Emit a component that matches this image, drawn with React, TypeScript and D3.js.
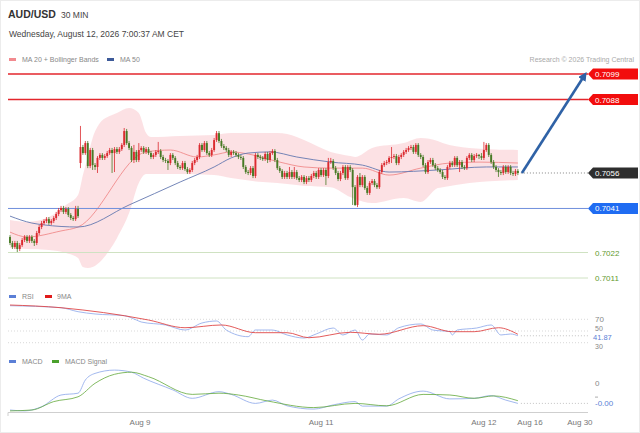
import * as d3 from "d3";

// AUD/USD 30 MIN candles
const opens = [
  0.70287, 0.70261, 0.70244, 0.70261, 0.70235, 0.70252, 0.70274, 0.70287, 0.7027, 0.70287,
  0.7027, 0.70261, 0.70304, 0.7033, 0.70347, 0.70356, 0.70364, 0.70347, 0.70356, 0.70369,
  0.70386, 0.70403, 0.70412, 0.70395, 0.70408, 0.70382, 0.70369, 0.70364, 0.70408, 0.70606,
  0.70675, 0.70649, 0.70692, 0.70593, 0.70662, 0.70597, 0.70589, 0.70628, 0.70641, 0.70628,
  0.70636, 0.70649, 0.70662, 0.70649, 0.70666, 0.70654, 0.70666, 0.70684, 0.70744, 0.70692,
  0.70671, 0.70619, 0.70654, 0.70619, 0.70662, 0.70671, 0.70654, 0.70666, 0.70649, 0.70632,
  0.70641, 0.70654, 0.70658, 0.70632, 0.70619, 0.70615, 0.70606, 0.70641, 0.70628, 0.70606,
  0.70589, 0.70584, 0.70606, 0.7058, 0.70567, 0.70576, 0.70606, 0.70619, 0.70632, 0.70684,
  0.70662, 0.70692, 0.70649, 0.70641, 0.70662, 0.70705, 0.70735, 0.70701, 0.70679, 0.70671,
  0.70662, 0.70641, 0.70654, 0.70649, 0.70641, 0.70632, 0.70628, 0.70589, 0.70567, 0.70563,
  0.70584, 0.7055, 0.70641, 0.70632, 0.70628, 0.70623, 0.70645, 0.70619, 0.70649, 0.70658,
  0.70619, 0.70584, 0.70572, 0.70546, 0.70563, 0.70546, 0.70567, 0.70546, 0.70567, 0.70541,
  0.70533, 0.70546, 0.70524, 0.70541, 0.70533, 0.7055, 0.70563, 0.70546, 0.70576, 0.70554,
  0.70576, 0.7055, 0.7061, 0.70615, 0.70584, 0.70563, 0.70537, 0.70563, 0.70589, 0.70541,
  0.70589, 0.70576, 0.70502, 0.70425, 0.70546, 0.70511, 0.70546, 0.70498, 0.70477, 0.7052,
  0.70528, 0.70511, 0.70502, 0.70567, 0.70597, 0.70606, 0.7061, 0.70628, 0.70632, 0.70636,
  0.70606, 0.70632, 0.70641, 0.70654, 0.70662, 0.70671, 0.70675, 0.70654, 0.70684, 0.70641,
  0.70632, 0.70597, 0.70567, 0.7061, 0.70619, 0.70597, 0.70584, 0.70576, 0.70567, 0.70546,
  0.70541, 0.70589, 0.70606, 0.70597, 0.70628, 0.70597, 0.7061, 0.70589, 0.70584, 0.70628,
  0.70641, 0.70619, 0.70636, 0.70641, 0.70636, 0.70628, 0.70662, 0.70684, 0.70641, 0.7061,
  0.70589, 0.70576, 0.70567, 0.70563, 0.70589, 0.70567, 0.70589, 0.70563, 0.70559, 0.70572,
];
const highs = [
  0.70295, 0.7027, 0.7027, 0.7027, 0.70261, 0.70283, 0.70295, 0.70295, 0.70295, 0.70295,
  0.70278, 0.70313, 0.70339, 0.70356, 0.70364, 0.70373, 0.70373, 0.70364, 0.70377, 0.70395,
  0.70412, 0.70421, 0.70421, 0.70416, 0.70416, 0.7039, 0.70377, 0.70421, 0.70421, 0.70766,
  0.70684, 0.70701, 0.70701, 0.70671, 0.70671, 0.70606, 0.70636, 0.70649, 0.70649, 0.70645,
  0.70658, 0.70671, 0.70671, 0.70675, 0.70675, 0.70675, 0.70692, 0.70757, 0.70753, 0.70701,
  0.70679, 0.70684, 0.70662, 0.70692, 0.70679, 0.70679, 0.70675, 0.70675, 0.70658, 0.70649,
  0.70662, 0.70697, 0.70666, 0.70641, 0.70628, 0.70623, 0.70649, 0.70649, 0.70636, 0.70615,
  0.70597, 0.70615, 0.70615, 0.70589, 0.70584, 0.70615, 0.70628, 0.70641, 0.70692, 0.70692,
  0.70701, 0.70701, 0.70658, 0.70671, 0.70714, 0.70744, 0.70744, 0.7071, 0.70688, 0.70679,
  0.70671, 0.70662, 0.70662, 0.70658, 0.70649, 0.70641, 0.70636, 0.70597, 0.70576, 0.70593,
  0.70593, 0.70649, 0.70649, 0.70641, 0.70636, 0.70654, 0.70654, 0.70658, 0.70666, 0.70666,
  0.70628, 0.70593, 0.7058, 0.70572, 0.70572, 0.70589, 0.70576, 0.70589, 0.70576, 0.7055,
  0.70554, 0.70554, 0.7055, 0.7055, 0.70559, 0.70572, 0.70572, 0.70584, 0.70584, 0.70584,
  0.70584, 0.70628, 0.70628, 0.70623, 0.70593, 0.70572, 0.70572, 0.70597, 0.70597, 0.70597,
  0.70597, 0.70584, 0.70511, 0.70554, 0.70563, 0.70554, 0.70554, 0.70507, 0.70528, 0.70537,
  0.70537, 0.7052, 0.70576, 0.70606, 0.70615, 0.70619, 0.70636, 0.70675, 0.70645, 0.70645,
  0.70641, 0.70649, 0.70662, 0.70671, 0.70679, 0.70684, 0.70684, 0.70692, 0.70692, 0.70649,
  0.70641, 0.70606, 0.70619, 0.70628, 0.70628, 0.70606, 0.70593, 0.70584, 0.70576, 0.70554,
  0.70597, 0.70615, 0.70615, 0.70636, 0.70636, 0.70619, 0.70619, 0.70597, 0.70636, 0.70649,
  0.70649, 0.70645, 0.70649, 0.70645, 0.70649, 0.70697, 0.70692, 0.70692, 0.70649, 0.70619,
  0.70597, 0.70584, 0.70576, 0.70597, 0.70597, 0.70597, 0.70597, 0.70572, 0.7058, 0.7058,
];
const lows = [
  0.70252, 0.70235, 0.70235, 0.70222, 0.70226, 0.70244, 0.70265, 0.70261, 0.70261, 0.70261,
  0.70248, 0.70252, 0.70295, 0.70321, 0.70339, 0.70347, 0.70339, 0.70339, 0.70347, 0.7036,
  0.70377, 0.70395, 0.70386, 0.70386, 0.70373, 0.7036, 0.70356, 0.70356, 0.70369, 0.70584,
  0.70641, 0.70641, 0.70584, 0.70584, 0.70576, 0.70576, 0.70563, 0.70619, 0.70619, 0.70619,
  0.70628, 0.70641, 0.70563, 0.70567, 0.70645, 0.70645, 0.70658, 0.70675, 0.70684, 0.70662,
  0.7061, 0.70606, 0.7061, 0.7061, 0.70654, 0.70645, 0.70645, 0.70641, 0.70623, 0.70623,
  0.70632, 0.70645, 0.70623, 0.7061, 0.70606, 0.70576, 0.70597, 0.70619, 0.70597, 0.7058,
  0.70576, 0.70576, 0.70572, 0.70559, 0.70559, 0.70567, 0.70597, 0.7061, 0.70623, 0.70654,
  0.70654, 0.70641, 0.70632, 0.70632, 0.70654, 0.70697, 0.70692, 0.70671, 0.70662, 0.70654,
  0.70632, 0.70632, 0.70641, 0.70632, 0.70623, 0.70619, 0.7058, 0.70559, 0.70554, 0.70554,
  0.70541, 0.70541, 0.70623, 0.70619, 0.70615, 0.70615, 0.70606, 0.7061, 0.70641, 0.7061,
  0.70576, 0.70563, 0.70537, 0.70537, 0.70537, 0.70537, 0.70537, 0.70537, 0.70533, 0.70524,
  0.70524, 0.70515, 0.70515, 0.70524, 0.70524, 0.70541, 0.70537, 0.70537, 0.70546, 0.70546,
  0.70511, 0.70541, 0.70602, 0.70576, 0.70554, 0.70528, 0.70528, 0.70554, 0.70533, 0.70533,
  0.70567, 0.70425, 0.70421, 0.70416, 0.70502, 0.70502, 0.7049, 0.70468, 0.70468, 0.70511,
  0.70502, 0.70494, 0.70494, 0.70559, 0.70589, 0.70597, 0.70602, 0.70606, 0.70623, 0.70597,
  0.70597, 0.70623, 0.70632, 0.70645, 0.70654, 0.70662, 0.70645, 0.70645, 0.70632, 0.70623,
  0.70589, 0.70559, 0.70559, 0.70602, 0.70589, 0.70576, 0.70567, 0.70559, 0.70537, 0.70533,
  0.70533, 0.7058, 0.70589, 0.70589, 0.70589, 0.70567, 0.7058, 0.70576, 0.70576, 0.70619,
  0.7061, 0.7061, 0.70628, 0.70623, 0.70619, 0.70619, 0.70654, 0.70632, 0.70602, 0.7058,
  0.70567, 0.70546, 0.70554, 0.70554, 0.70559, 0.70559, 0.70554, 0.7055, 0.7055, 0.70554,
];
const closes = [
  0.70261, 0.70244, 0.70261, 0.70235, 0.70252, 0.70274, 0.70287, 0.7027, 0.70287, 0.7027,
  0.70261, 0.70304, 0.7033, 0.70347, 0.70356, 0.70364, 0.70347, 0.70356, 0.70369, 0.70386,
  0.70403, 0.70412, 0.70395, 0.70408, 0.70382, 0.70369, 0.70364, 0.70408, 0.70377, 0.70675,
  0.70649, 0.70692, 0.70593, 0.70662, 0.70597, 0.70589, 0.70628, 0.70641, 0.70628, 0.70636,
  0.70649, 0.70662, 0.70649, 0.70666, 0.70654, 0.70666, 0.70684, 0.70744, 0.70692, 0.70671,
  0.70619, 0.70654, 0.70619, 0.70662, 0.70671, 0.70654, 0.70666, 0.70649, 0.70632, 0.70641,
  0.70654, 0.70658, 0.70632, 0.70619, 0.70615, 0.70606, 0.70641, 0.70628, 0.70606, 0.70589,
  0.70584, 0.70606, 0.7058, 0.70567, 0.70576, 0.70606, 0.70619, 0.70632, 0.70684, 0.70662,
  0.70692, 0.70649, 0.70641, 0.70662, 0.70705, 0.70735, 0.70701, 0.70679, 0.70671, 0.70662,
  0.70641, 0.70654, 0.70649, 0.70641, 0.70632, 0.70628, 0.70589, 0.70567, 0.70563, 0.70584,
  0.7055, 0.70641, 0.70632, 0.70628, 0.70623, 0.70645, 0.70619, 0.70649, 0.70658, 0.70619,
  0.70584, 0.70572, 0.70546, 0.70563, 0.70546, 0.70567, 0.70546, 0.70567, 0.70541, 0.70533,
  0.70546, 0.70524, 0.70541, 0.70533, 0.7055, 0.70563, 0.70546, 0.70576, 0.70554, 0.70576,
  0.7055, 0.7061, 0.70615, 0.70584, 0.70563, 0.70537, 0.70563, 0.70589, 0.70541, 0.70589,
  0.70576, 0.70502, 0.70425, 0.70546, 0.70511, 0.70546, 0.70498, 0.70477, 0.7052, 0.70528,
  0.70511, 0.70502, 0.70567, 0.70597, 0.70606, 0.7061, 0.70628, 0.70632, 0.70636, 0.70606,
  0.70632, 0.70641, 0.70654, 0.70662, 0.70671, 0.70675, 0.70654, 0.70684, 0.70641, 0.70632,
  0.70597, 0.70567, 0.7061, 0.70619, 0.70597, 0.70584, 0.70576, 0.70567, 0.70546, 0.70541,
  0.70589, 0.70606, 0.70597, 0.70628, 0.70597, 0.7061, 0.70589, 0.70584, 0.70628, 0.70641,
  0.70619, 0.70636, 0.70641, 0.70636, 0.70628, 0.70662, 0.70684, 0.70641, 0.7061, 0.70589,
  0.70576, 0.70567, 0.70563, 0.70589, 0.70567, 0.70589, 0.70563, 0.70559, 0.70572, 0.70563,
];

// indicators, sampled at candle indices
const ma20Idx = [0, 7, 21, 28, 56, 66, 77, 84, 91, 98, 111, 121, 132, 145, 156, 169, 181, 193, 209];
const ma20 = [0.70308, 0.70287, 0.70313, 0.7033, 0.70654, 0.70662, 0.70632, 0.70641, 0.70654, 0.70645, 0.7061, 0.70589, 0.70584, 0.70584, 0.70554, 0.70584, 0.70606, 0.7061, 0.70606];
const ma50Idx = [0, 9, 14, 28, 49, 70, 84, 91, 98, 107, 118, 132, 145, 156, 176, 196, 209];
const ma50 = [0.70377, 0.70347, 0.70339, 0.7033, 0.70425, 0.70524, 0.70589, 0.70628, 0.70649, 0.70654, 0.70632, 0.7061, 0.70597, 0.70567, 0.70576, 0.70589, 0.70589];
const bbIdx = [0, 7, 16, 23, 28, 30, 32, 34, 37, 41, 44, 49, 53, 56, 58, 70, 84, 91, 104, 110, 118, 121, 132, 140, 142, 149, 162, 169, 176, 178, 189, 209];
const bbUpper = [0.7036, 0.70352, 0.70373, 0.70425, 0.70468, 0.70554, 0.70632, 0.70714, 0.70779, 0.70809, 0.70822, 0.70843, 0.70822, 0.70735, 0.70718, 0.70723, 0.70727, 0.70735, 0.70735, 0.70735, 0.70718, 0.70705, 0.70654, 0.70636, 0.70632, 0.70671, 0.70692, 0.70714, 0.70701, 0.70692, 0.70671, 0.70662];
const bbLower = [0.70239, 0.70235, 0.70231, 0.70218, 0.70196, 0.70157, 0.70153, 0.70157, 0.70179, 0.70231, 0.70282, 0.7039, 0.7052, 0.70559, 0.70559, 0.70559, 0.70554, 0.70541, 0.70524, 0.7052, 0.70511, 0.70507, 0.70502, 0.70459, 0.70451, 0.70433, 0.70455, 0.70438, 0.70498, 0.70502, 0.7052, 0.70533];

const rsiIdx = [0, 21, 28, 35, 47, 52, 54, 64, 72, 79, 85, 89, 98, 101, 108, 114, 121, 126, 133, 137, 142, 145, 148, 155, 160, 169, 174, 181, 182, 184, 192, 198, 202, 206, 209];
const rsi = [93.2, 89.8, 83.0, 79.1, 76.2, 68.8, 65.4, 60.3, 51.7, 63.7, 67.1, 51.7, 40.3, 51.7, 51.7, 43.2, 38.0, 44.9, 55.1, 43.2, 51.7, 34.6, 44.9, 43.2, 55.6, 62.0, 51.7, 48.8, 43.2, 51.7, 55.1, 60.3, 43.2, 44.9, 41.87];
const rsiMaIdx = [0, 21, 30, 47, 57, 72, 87, 101, 114, 123, 140, 152, 170, 182, 191, 201, 209];
const rsiMa = [94.4, 89.8, 85.9, 76.2, 68.8, 55.6, 60.3, 47.1, 47.1, 38.5, 47.8, 44.4, 59.1, 48.8, 48.8, 55.6, 44.4];
const rsiLevels = [70, 50, 30];

const macdIdx = [0, 6, 13, 21, 28, 31, 35, 43, 50, 55, 67, 75, 86, 91, 101, 108, 114, 125, 133, 142, 145, 155, 160, 170, 181, 191, 198, 204, 209];
const macd = [-0.0009, -0.00093, -0.00079, -0.0004, -0.00034, 0.0001, 0.00032, 0.00043, 0.00036, 0.00016, -0.00023, -0.00051, -0.00029, -0.00038, -0.00068, -0.00057, -0.00076, -0.00087, -0.00073, -0.00062, -0.00077, -0.00077, -0.00053, -0.00027, -0.00053, -0.00051, -0.00042, -0.00057, -0.00068];
const signalIdx = [0, 9, 18, 28, 35, 43, 50, 57, 75, 86, 94, 106, 125, 142, 155, 170, 181, 191, 199, 209];
const signal = [-0.00093, -0.0009, -0.00062, -0.00046, -0.00001, 0.00029, 0.00036, 0.00021, -0.00038, -0.00034, -0.0004, -0.0006, -0.00082, -0.00068, -0.00076, -0.00038, -0.0004, -0.00051, -0.00043, -0.00059];

const resistances = [0.7099, 0.7088];
const pivot = 0.7041;
const supports = [0.7022, 0.7011];
const targetIdx = 236.5;

const xTickIdx = [53.5, 128, 195, 214, 234.5];
const xTickLabels = ["Aug 9", "Aug 11", "Aug 12", "Aug 16", "Aug 30"];

const FONT = "'Liberation Sans', Arial, sans-serif";
const UP = "#db2a2f";
const DOWN = "#477a25";
const LEFT = 8;
const RIGHT = 588;

const N = closes.length;
const x = d3.scaleLinear().domain([0, N - 1]).range([10, 517.9]);
const yP = d3.scaleLinear().domain([0.7011, 0.7099]).range([278, 74]);
const yR = d3.scaleLinear().domain([30, 70]).range([342.7, 319.3]);
const yM = d3.scaleLinear().domain([-0.001, 0]).range([413, 383]);

function linePath(idx: number[], vals: number[], y: d3.ScaleLinear<number, number>) {
  return (
    d3
      .line<number>()
      .x((_, i) => x(idx[i]))
      .y((v) => y(v))
      .curve(d3.curveMonotoneX)(vals) || ""
  );
}

function Tag({ value, fill }: { value: number; fill: string }) {
  const y = yP(value);
  return (
    <g>
      <path d={`M${RIGHT},${y} L${RIGHT + 5},${y - 5.5} L638,${y - 5.5} L638,${y + 5.5} L${RIGHT + 5},${y + 5.5} Z`} fill={fill} />
      <text x={595} y={y + 3} fontSize={8} fill="#fff">{value.toFixed(4)}</text>
    </g>
  );
}

export default function App() {
  const last = closes[N - 1];
  const rsiLast = rsi[rsi.length - 1];
  const macdLast = macd[macd.length - 1];
  const band =
    d3
      .area<number>()
      .x((_, i) => x(bbIdx[i]))
      .y0((_, i) => yP(bbLower[i]))
      .y1((v) => yP(v))
      .curve(d3.curveMonotoneX)(bbUpper) || "";

  const ax0 = x(N - 1) + 4;
  const ay0 = yP(last);
  const ax1 = x(targetIdx);
  const ay1 = yP(resistances[0]) + 1;

  return (
    <div style={{ position: "absolute", left: 0, top: 0 }}>
      <svg width={640} height={433} style={{ display: "block", fontFamily: FONT }}>
        <defs>
          <marker id="ah" viewBox="0 0 10 10" refX="6" refY="5" markerWidth="3.4" markerHeight="3.4" orient="auto">
            <path d="M0,0 L10,5 L0,10 Z" fill="#2f62a6" />
          </marker>
        </defs>
        <rect x={0.5} y={0.5} width={639} height={432} fill="#fff" stroke="#ececec" />

        {/* header */}
        <text x={8} y={18} fontSize={10.5} fontWeight="bold" fill="#333">AUD/USD</text>
        <text x={61} y={18} fontSize={8.5} fill="#444">30 MIN</text>
        <text x={9} y={37} fontSize={8.5} fill="#444">Wednesday, August 12, 2026 7:00:37 AM CET</text>

        <rect x={9} y={58} width={7} height={3} fill="#f28a8f" />
        <text x={22} y={62} fontSize={7} fill="#888">MA 20 + Bollinger Bands</text>
        <rect x={107} y={58} width={7} height={3} fill="#3d5a99" />
        <text x={120} y={62} fontSize={7} fill="#888">MA 50</text>
        <text x={634} y={62} fontSize={7} fill="#aaa" textAnchor="end">Research © 2026 Trading Central</text>

        {/* bollinger band + MAs */}
        <path d={band} fill="#f7a3ad" fillOpacity={0.33} />
        <path d={linePath(ma20Idx, ma20, yP)} fill="none" stroke="#ef8080" strokeWidth={0.8} />
        <path d={linePath(ma50Idx, ma50, yP)} fill="none" stroke="#6478b0" strokeWidth={0.9} />

        {/* levels */}
        {resistances.map((v) => (
          <line key={v} x1={LEFT} x2={RIGHT} y1={yP(v)} y2={yP(v)} stroke="#e3262c" strokeWidth={1.3} />
        ))}
        <line x1={LEFT} x2={RIGHT} y1={yP(pivot)} y2={yP(pivot)} stroke="#6f8fdc" strokeWidth={1} />
        {supports.map((v) => (
          <line key={v} x1={LEFT} x2={RIGHT} y1={yP(v)} y2={yP(v)} stroke="#cfe2c2" strokeWidth={1} />
        ))}
        <line x1={x(N - 1) + 3} x2={RIGHT} y1={yP(last)} y2={yP(last)} stroke="#666" strokeWidth={0.8} strokeDasharray="1,2" />

        {/* candles */}
        {closes.map((c, i) => {
          const o = opens[i];
          const col = c >= o ? UP : DOWN;
          const top = yP(Math.max(o, c));
          const bot = yP(Math.min(o, c));
          return (
            <g key={i}>
              <line x1={x(i)} x2={x(i)} y1={yP(highs[i])} y2={yP(lows[i])} stroke={col} strokeWidth={0.8} />
              <rect x={x(i) - 0.95} width={1.9} y={top} height={Math.max(0.8, bot - top)} fill={col} />
            </g>
          );
        })}

        {/* forecast arrow */}
        <line x1={ax0} y1={ay0} x2={ax1} y2={ay1} stroke="#2f62a6" strokeWidth={2.6} markerEnd="url(#ah)" />

        {/* right labels */}
        {resistances.map((v) => (
          <Tag key={v} value={v} fill="#f20d0d" />
        ))}
        <Tag value={last} fill="#2e2e2e" />
        <Tag value={pivot} fill="#1f6cf2" />
        {supports.map((v) => (
          <text key={v} x={595} y={yP(v) + 3} fontSize={8} fill="#5f9a30">{v.toFixed(4)}</text>
        ))}

        {/* RSI panel */}
        <rect x={9} y={295} width={7} height={3} fill="#5b7fd6" />
        <text x={22} y={299} fontSize={7} fill="#888">RSI</text>
        <rect x={45} y={295} width={7} height={3} fill="#e01b1b" />
        <text x={57} y={299} fontSize={7} fill="#888">9MA</text>
        {rsiLevels.map((v) => (
          <line key={v} x1={LEFT} x2={RIGHT} y1={yR(v)} y2={yR(v)} stroke="#c8c8c8" strokeWidth={0.7} strokeDasharray="1,2" />
        ))}
        <text x={595} y={yR(70) + 3} fontSize={8} fill="#888">70</text>
        <text x={595} y={yR(50)} fontSize={7} fill="#888">50</text>
        <text x={595} y={yR(30) + 6.3} fontSize={7} fill="#888">30</text>
        <path d={linePath(rsiIdx, rsi, yR)} fill="none" stroke="#8aa6ea" strokeWidth={0.8} />
        <path d={linePath(rsiMaIdx, rsiMa, yR)} fill="none" stroke="#e04848" strokeWidth={0.9} />
        <line x1={x(N - 1) + 3} x2={RIGHT} y1={yR(rsiLast)} y2={yR(rsiLast)} stroke="#aaa" strokeWidth={0.7} strokeDasharray="1,2" />
        <text x={593} y={yR(rsiLast) + 4.3} fontSize={7.5} fill="#5b7fd6">{rsiLast.toFixed(2)}</text>

        {/* MACD panel */}
        <rect x={9} y={360} width={7} height={3} fill="#5b7fd6" />
        <text x={22} y={364} fontSize={7} fill="#888">MACD</text>
        <rect x={52} y={360} width={7} height={3} fill="#4aa02c" />
        <text x={65} y={364} fontSize={7} fill="#888">MACD Signal</text>
        <text x={595} y={yM(0) + 3} fontSize={8} fill="#888">0</text>
        <line x1={595} x2={598} y1={yM(-0.00047)} y2={yM(-0.00047)} stroke="#999" strokeWidth={0.8} />
        <path d={linePath(macdIdx, macd, yM)} fill="none" stroke="#8aa6ea" strokeWidth={0.8} />
        <path d={linePath(signalIdx, signal, yM)} fill="none" stroke="#62a83a" strokeWidth={0.8} />
        <line x1={x(N - 1) + 3} x2={RIGHT} y1={yM(macdLast)} y2={yM(macdLast)} stroke="#aaa" strokeWidth={0.7} strokeDasharray="1,2" />
        <text x={595} y={yM(macdLast) + 3} fontSize={8} fill="#5b7fd6">{macdLast.toFixed(2)}</text>

        {/* x axis */}
        <line x1={LEFT} x2={RIGHT} y1={412.5} y2={412.5} stroke="#cfcfcf" strokeWidth={1} />
        <line x1={LEFT} x2={LEFT} y1={412.5} y2={416} stroke="#cfcfcf" strokeWidth={1} />
        {xTickIdx.map((t, i) => (
          <text key={t} x={x(t)} y={425} fontSize={8} fill="#777" textAnchor="middle">{xTickLabels[i]}</text>
        ))}
      </svg>
    </div>
  );
}
